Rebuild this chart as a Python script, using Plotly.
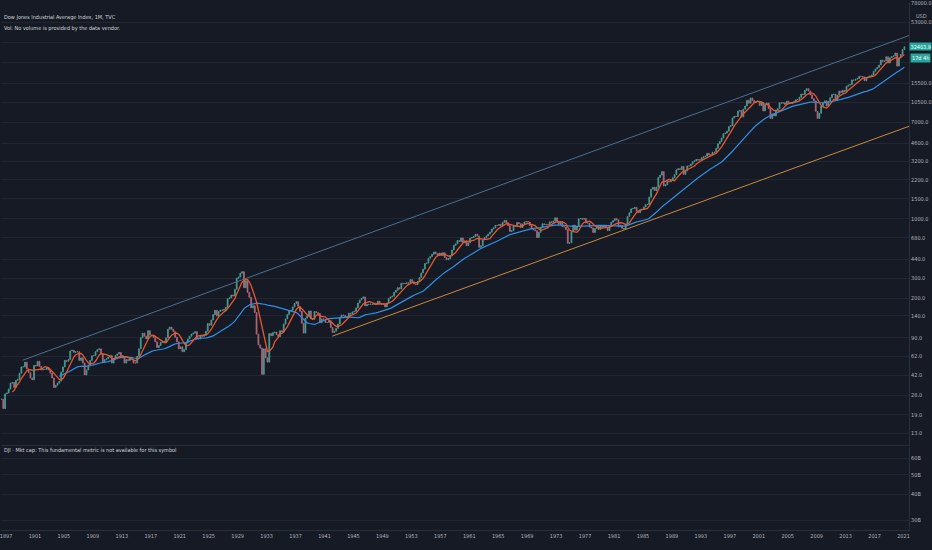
import numpy as np
import pandas as pd
import plotly.graph_objects as go
from plotly.subplots import make_subplots

title_text = "Dow Jones Industrial Average Index, 1M, TVC"
vol_text = "Vol: No volume is provided by the data vendor."
mcap_text = "DJI · Mkt cap: This fundamental metric is not available for this symbol"

# quarterly closes, 1896 Q2 ... 2021 Q1
close = [
    26, 21.5, 29,                           # 1896
    29.5, 32, 36, 36.5,  33, 38, 39, 44,    # 1897-98
    50, 50, 55, 48,  44.5, 40, 38.5, 51.6,  # 1899-1900
    51, 56, 50.5, 47,  47.5, 47.5, 49, 47,  # 1901-02
    44, 40, 33, 34.5,  36, 37.5, 45, 50,    # 1903-04
    57, 56, 58, 69,  70, 67, 68, 68,        # 1905-06
    57, 60, 54, 42.5,  47, 52, 57, 62.5,    # 1907-08
    63, 68, 71, 72,  65, 55, 58, 59,        # 1909-10
    61, 63, 54, 59,  63, 65, 67, 63,        # 1911-12
    60, 54, 58, 57,  60, 58, 54, 54,        # 1913-14
    62, 72, 90, 99,  93, 88, 104, 95,       # 1915-16
    94, 91, 83, 74,  77, 82, 84, 82,        # 1917-18
    90, 107, 112, 107,  102, 91, 83, 72,    # 1919-20
    75, 68, 71, 81,  88, 93, 97, 99,        # 1921-22
    102, 88, 88, 95,  93, 96, 103, 120,     # 1923-24
    116, 129, 144, 157,  140, 153, 158, 157,  # 1925-26
    160, 167, 198, 202,  214, 210, 240, 300,  # 1927-28
    308, 333, 343, 248,  286, 226, 204, 165,  # 1929-30
    172, 150, 97, 78,  73, 43, 72, 60,        # 1931-32
    55, 98, 94, 100,  101, 96, 92, 104,       # 1933-34
    101, 119, 132, 144,  156, 157, 168, 180,  # 1935-36
    187, 170, 154, 121,  99, 134, 141, 155,   # 1937-38
    132, 131, 153, 150,  147, 122, 132, 131,  # 1939-40
    123, 123, 127, 111,  100, 103, 109, 119,  # 1941-42
    136, 143, 141, 136,  138, 148, 146, 152,  # 1943-44
    154, 165, 182, 193,  200, 206, 172, 177,  # 1945-46
    177, 178, 177, 181,  177, 189, 178, 177,  # 1947-48
    178, 168, 182, 200,  206, 209, 226, 235,  # 1949-50
    248, 242, 271, 269,  270, 274, 271, 292,  # 1951-52
    280, 268, 264, 281,  304, 334, 361, 404,  # 1953-54
    409, 451, 466, 488,  511, 492, 475, 500,  # 1955-56
    475, 503, 456, 436,  446, 478, 532, 584,  # 1957-58
    602, 643, 632, 679,  617, 641, 580, 616,  # 1959-60
    676, 684, 701, 731,  706, 561, 579, 652,  # 1961-62
    683, 707, 733, 763,  813, 832, 875, 874,  # 1963-64
    889, 868, 931, 969,  924, 870, 774, 786,  # 1965-66
    866, 860, 927, 905,  840, 898, 936, 944,  # 1967-68
    935, 873, 813, 800,  786, 684, 761, 839,  # 1969-70
    904, 891, 887, 890,  940, 929, 953, 1020,  # 1971-72
    951, 892, 947, 851,  847, 802, 608, 616,   # 1973-74
    768, 879, 794, 852,  999, 1003, 990, 1005,  # 1975-76
    919, 916, 847, 831,  757, 819, 866, 805,    # 1977-78
    862, 842, 879, 839,  786, 868, 932, 964,    # 1979-80
    1004, 977, 850, 875,  823, 812, 896, 1047,  # 1981-82
    1130, 1222, 1233, 1259,  1165, 1132, 1207, 1212,  # 1983-84
    1267, 1336, 1329, 1547,  1819, 1893, 1768, 1896,  # 1985-86
    2305, 2419, 2596, 1939,  1988, 2142, 2113, 2169,  # 1987-88
    2293, 2440, 2693, 2753,  2707, 2881, 2453, 2634,  # 1989-90
    2914, 2907, 3017, 3169,  3236, 3319, 3272, 3301,  # 1991-92
    3436, 3516, 3555, 3754,  3636, 3625, 3843, 3834,  # 1993-94
    4158, 4556, 4789, 5117,  5588, 5655, 5882, 6448,  # 1995-96
    6584, 7673, 7945, 7908,  8800, 8952, 7843, 9181,  # 1997-98
    9786, 10971, 10337, 11497,  10922, 10448, 10651, 10787,  # 1999-2000
    9879, 10502, 8848, 10022,  10404, 9243, 7592, 8342,      # 2001-02
    7992, 8985, 9275, 10454,  10358, 10435, 10080, 10783,    # 2003-04
    10504, 10275, 10569, 10718,  11109, 11150, 11679, 12463,  # 2005-06
    12354, 13409, 13896, 13265,  12263, 11350, 10851, 8776,   # 2007-08
    7609, 8447, 9712, 10428,  10857, 9774, 10788, 11578,      # 2009-10
    12320, 12414, 10913, 12218,  13212, 12880, 13437, 13104,  # 2011-12
    14579, 14910, 15130, 16577,  16458, 16827, 17043, 17823,  # 2013-14
    17776, 17620, 16285, 17425,  17685, 17930, 18308, 19763,  # 2015-16
    20663, 21350, 22405, 24719,  24103, 24271, 26458, 23327,  # 2017-18
    25929, 26600, 26917, 28538,  21917, 25813, 27782, 30606,  # 2019-20
    32403.9,                                                  # 2021
]

# moving average lengths in quarters (~20 and ~100 months)
ma_fast_len = 7
ma_slow_len = 33

# drawn trend lines (time, price anchors)
trend_up_x = ["1899-04-20", "2021-10-05"]
trend_up_y = [57.2, 40700]
trend_low_x = ["1942-01-30", "2021-10-05"]
trend_low_y = [93.1, 6489]

price_ticks = [13, 19, 28, 42, 62, 90, 140, 200, 300, 440, 680, 1000, 1500, 2200,
               3200, 4600, 7000, 10500, 15500, 23500, 35000, 53000, 78000]
price_hidden = [23500, 35000]
mcap_ticks = [30e9, 40e9, 50e9, 60e9]
mcap_labels = ["30B", "40B", "50B", "60B"]
year_ticks = list(range(1897, 2022, 4))

bg = "#161a25"
grid = "#222633"
sep = "#2a2e39"
txt = "#b2b5be"
font_fam = "Liberation Sans Narrow, Arial Narrow, DejaVu Sans Condensed, Roboto, sans-serif"
fs = 5.5

n = len(close)
dates = pd.date_range("1896-04-01", periods=n, freq="3MS") + pd.Timedelta(days=45)
df = pd.DataFrame({"date": dates, "close": close})
df["open"] = df["close"].shift(1).fillna(df["close"])
df["high"] = df[["open", "close"]].max(axis=1)
df["low"] = df[["open", "close"]].min(axis=1)
df["ma_fast"] = df["close"].rolling(ma_fast_len).mean()
df["ma_slow"] = df["close"].rolling(ma_slow_len).mean()

fig = make_subplots(rows=2, cols=1, shared_xaxes=True, vertical_spacing=0.004,
                    row_heights=[0.84, 0.16])

up_col = "#4a9e95"
dn_col = "#b06a7a"
fig.add_trace(go.Candlestick(x=df["date"], open=df["open"], high=df["high"],
                             low=df["low"], close=df["close"],
                             increasing=dict(line=dict(color=up_col, width=0.8), fillcolor=up_col),
                             decreasing=dict(line=dict(color=dn_col, width=0.8), fillcolor=dn_col),
                             whiskerwidth=0, hoverinfo="skip"), row=1, col=1)
fig.add_trace(go.Scatter(x=df["date"], y=df["ma_slow"], mode="lines",
                         line=dict(color="#2d8fe6", width=1.2)), row=1, col=1)
fig.add_trace(go.Scatter(x=df["date"], y=df["ma_fast"], mode="lines",
                         line=dict(color="#e8572c", width=1.3)), row=1, col=1)
fig.add_trace(go.Scatter(x=trend_up_x, y=trend_up_y, mode="lines",
                         line=dict(color="#4d6f8f", width=1)), row=1, col=1)
fig.add_trace(go.Scatter(x=trend_low_x, y=trend_low_y, mode="lines",
                         line=dict(color="#c98a3a", width=1)), row=1, col=1)
fig.add_trace(go.Scatter(x=df["date"][:1], y=[None]), row=2, col=1)

fig.update_layout(width=932, height=550, margin=dict(l=0, r=20, t=0, b=20),
                  paper_bgcolor=bg, plot_bgcolor=bg, showlegend=False,
                  xaxis_rangeslider_visible=False,
                  font=dict(family=font_fam, size=fs, color=txt))

fig.update_xaxes(type="date", range=["1896-04-22", "2021-10-05"], showgrid=False, zeroline=False,
                 tickvals=[f"{y}-01-01" for y in year_ticks],
                 ticktext=[str(y) for y in year_ticks], ticks="",
                 ticklabeloverflow="allow",
                 showline=True, linecolor=sep, linewidth=1,
                 tickfont=dict(family=font_fam, size=fs, color=txt))
fig.update_xaxes(showticklabels=False, row=1, col=1)
fig.update_xaxes(showticklabels=True, row=2, col=1)

fig.update_yaxes(type="log", range=[1.0087, 4.8952], side="right", domain=[0.1604, 1],
                 tickvals=price_ticks,
                 ticktext=["" if v in price_hidden else f"{v:.1f}" for v in price_ticks],
                 gridcolor=grid, gridwidth=1, zeroline=False, ticks="",
                 ticklabeloverflow="allow",
                 showline=True, linecolor=sep, row=1, col=1)
fig.update_yaxes(type="log", range=[10.429, 10.831], side="right", domain=[0, 0.1566],
                 tickvals=mcap_ticks, ticktext=mcap_labels,
                 gridcolor=grid, gridwidth=1, zeroline=False, ticks="",
                 showline=True, linecolor=sep, row=2, col=1)

# last price line and labels
last = close[-1]
fig.add_shape(type="line", xref="paper", x0=0, x1=1, yref="y", y0=np.log10(last), y1=np.log10(last),
              line=dict(color="rgba(38,166,154,0.55)", width=1))
fig.add_annotation(xref="paper", x=1, xanchor="left", yref="y", y=np.log10(last),
                   text=f"{last:.1f}", showarrow=False, bgcolor="#26a69a",
                   font=dict(color="#ffffff", size=fs, family=font_fam), borderpad=0.5, xshift=0)
fig.add_annotation(xref="paper", x=1, xanchor="left", yref="y", y=np.log10(last),
                   text="17d 4h", showarrow=False, bgcolor="#26a69a", yshift=-11,
                   font=dict(color="#ffffff", size=fs, family=font_fam), borderpad=1, xshift=1)
fig.add_annotation(xref="paper", x=1, xanchor="left", yref="paper", y=1 - 8 / 530,
                   text="USD", showarrow=False, xshift=5,
                   font=dict(color=txt, size=fs, family=font_fam))

fig.add_annotation(xref="paper", x=0, xanchor="left", yref="paper", y=1 - 9 / 530,
                   text=title_text, showarrow=False, xshift=1,
                   font=dict(color="#d1d4dc", size=fs, family=font_fam))
fig.add_annotation(xref="paper", x=0, xanchor="left", yref="paper", y=1 - 20 / 530,
                   text=vol_text, showarrow=False, xshift=1,
                   font=dict(color="#d1d4dc", size=fs, family=font_fam))
fig.add_annotation(xref="paper", x=0, xanchor="left", yref="paper", y=1 - 456 / 530,
                   text=mcap_text, showarrow=False, xshift=1,
                   font=dict(color="#d1d4dc", size=fs, family=font_fam))

fig.write_html("out.html", config={"displayModeBar": False},
               post_script="document.body.style.margin='0';")
